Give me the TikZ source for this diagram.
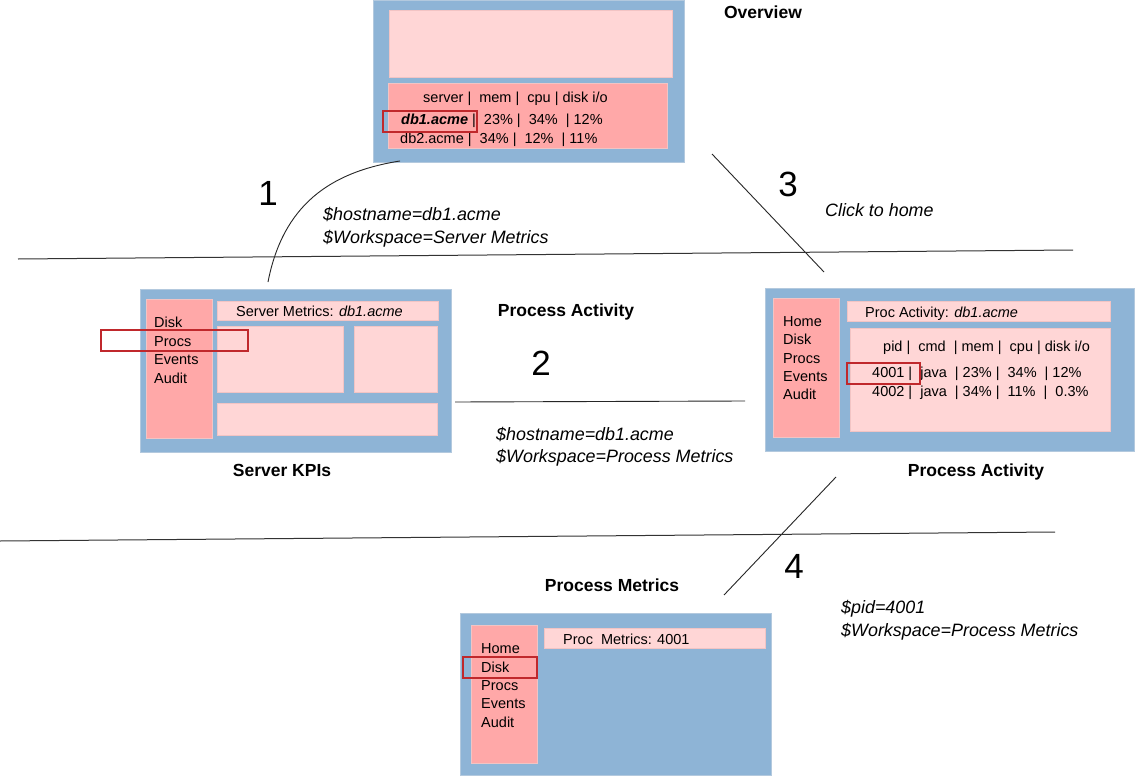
\documentclass[tikz,border=0pt]{standalone}
\usepackage{fontspec}
\setmainfont{Liberation Sans}
\definecolor{panelblue}{HTML}{8EB4D6}
\definecolor{paneledge}{HTML}{B3C9DE}
\definecolor{pinklight}{HTML}{FFD6D6}
\definecolor{pinkdark}{HTML}{FFA8A8}
\definecolor{pinkedge}{HTML}{F2C4C4}
\definecolor{hired}{HTML}{C0282C}
\begin{document}
\begin{tikzpicture}[x=1pt,y=-1pt,
  panel/.style={draw=paneledge,fill=panelblue,line width=0.8pt,anchor=north west,inner sep=0pt,outer sep=0pt},
  lightbox/.style={draw=pinkedge,fill=pinklight,line width=0.5pt,anchor=north west,inner sep=0pt,outer sep=0pt},
  darkbox/.style={draw=pinkedge,fill=pinkdark,line width=0.5pt,anchor=north west,inner sep=0pt,outer sep=0pt},
  hilite/.style={draw=hired,line width=2pt,anchor=north west,inner sep=0pt,outer sep=0pt},
  ui/.style={font=\fontsize{14.5}{17}\selectfont,anchor=base west,inner sep=0pt},
  title/.style={font=\fontsize{17.5}{21}\selectfont\bfseries,anchor=base,inner sep=0pt},
  note/.style={font=\fontsize{17.9}{21}\selectfont\itshape,anchor=base west,inner sep=0pt},
  stepno/.style={font=\fontsize{35}{40}\selectfont,anchor=base,inner sep=0pt},
  link/.style={draw=black!85,line width=0.9pt},
  divider/.style={draw=black!80,line width=1pt}]
\useasboundingbox[fill=white] (0,0) rectangle (1135,776);

% ---------- Overview screen ----------
\node[panel,minimum width=311pt,minimum height=162pt] (ov) at (373,0) {};
\node[lightbox,minimum width=283pt,minimum height=67pt] (ovtop) at (389,10) {};
\node[darkbox,minimum width=279pt,minimum height=65pt] (ovtab) at (388,83) {};
\node[ui] (ovh) at (423,102) {server |~~mem |~~cpu |~disk i/o};
\node[ui] (ovr1) at (401,124) {\textbf{\textit{db1.acme}} |~~23\% |~~34\%~~| 12\%};
\node[ui] (ovr2) at (400,143) {db2.acme |~~34\% |~~12\%~~| 11\%};
\node[hilite,minimum width=94pt,minimum height=21pt] (ovhl) at (383,111) {};
\node[title] (ovtitle) at (763,19) {Overview};

% ---------- Server KPIs screen ----------
\node[panel,minimum width=311pt,minimum height=163pt] (srv) at (140,289) {};
\node[darkbox,minimum width=66pt,minimum height=139pt] (srvmenu) at (146,299) {};
\node[lightbox,minimum width=221pt,minimum height=19pt] (srvbar) at (217,301) {};
\node[lightbox,minimum width=126pt,minimum height=66pt] (srva) at (217,326) {};
\node[lightbox,minimum width=83pt,minimum height=66pt] (srvb) at (354,326) {};
\node[lightbox,minimum width=220pt,minimum height=32pt] (srvc) at (217,403) {};
\node[ui] (srvbartxt) at (236,316) {Server Metrics: \textit{db1.acme}};
\foreach \t/\yy [count=\i] in {Disk/327,Procs/346,Events/364,Audit/383}
  \node[ui] (srvm\i) at (154,\yy) {\t};
\node[hilite,minimum width=147pt,minimum height=21pt] (srvhl) at (101,330) {};
\node[title] (srvtitle) at (282,476) {Server KPIs};

% ---------- Process Activity screen ----------
\node[panel,minimum width=369pt,minimum height=163pt] (pa) at (765,288) {};
\node[darkbox,minimum width=66pt,minimum height=139pt] (pamenu) at (773,298) {};
\node[lightbox,minimum width=263pt,minimum height=20pt] (pabar) at (847,301) {};
\node[lightbox,minimum width=260pt,minimum height=103pt] (patab) at (850,328) {};
\node[ui] (pabartxt) at (865,317) {Proc Activity: \textit{db1.acme}};
\foreach \t/\yy [count=\i] in {Home/326,Disk/344,Procs/363,Events/381,Audit/399}
  \node[ui] (pam\i) at (783,\yy) {\t};
\node[ui] (pah) at (883,351) {pid |~~cmd~~| mem |~~cpu | disk i/o};
\node[ui] (par1) at (872,377) {4001 |~~java~~| 23\% |~~34\%~~| 12\%};
\node[ui] (par2) at (872,396) {4002 |~~java~~| 34\% |~~11\%~~|~~0.3\%};
\node[hilite,minimum width=73pt,minimum height=21pt] (pahl) at (847,363) {};
\node[title] (patitle) at (976,476) {Process Activity};

% ---------- Process Metrics screen ----------
\node[panel,minimum width=311pt,minimum height=162pt] (pm) at (460,613) {};
\node[darkbox,minimum width=66pt,minimum height=138pt] (pmmenu) at (471,625) {};
\node[lightbox,minimum width=221pt,minimum height=20pt] (pmbar) at (544,628) {};
\node[ui] (pmbartxt) at (563,644) {Proc~~Metrics: 4001};
\foreach \t/\yy [count=\i] in {Home/653,Disk/672,Procs/690,Events/708,Audit/727}
  \node[ui] (pmm\i) at (481,\yy) {\t};
\node[hilite,minimum width=74pt,minimum height=21pt] (pmhl) at (463,657) {};
\node[title] (pmtitle) at (612,591) {Process Metrics};

% ---------- transitions ----------
\coordinate (t1a) at (268,282);
\coordinate (t1b) at (400,161);
\draw[link] (t1a) .. controls (283,205) and (330,172) .. (t1b);
\node[stepno] (n1) at (268,205) {1};
\node[note] (v1a) at (323,220) {\$hostname=db1.acme};
\node[note] (v1b) at (323,243) {\$Workspace=Server Metrics};

\coordinate (t2a) at (455,402);
\coordinate (t2b) at (745,401);
\draw[link] (t2a) -- (t2b);
\node[title] (t2title) at (566,316) {Process Activity};
\node[stepno] (n2) at (541,375) {2};
\node[note] (v2a) at (496,440) {\$hostname=db1.acme};
\node[note] (v2b) at (496,462) {\$Workspace=Process Metrics};

\coordinate (t3a) at (712,154);
\coordinate (t3b) at (824,272);
\draw[link] (t3a) -- (t3b);
\node[stepno] (n3) at (788,196) {3};
\node[note] (v3) at (825,216) {Click to home};

\coordinate (t4a) at (836,477);
\coordinate (t4b) at (724,595);
\draw[link] (t4a) -- (t4b);
\node[stepno] (n4) at (794,578) {4};
\node[note] (v4a) at (841,613) {\$pid=4001};
\node[note] (v4b) at (841,636) {\$Workspace=Process Metrics};

% ---------- row separators ----------
\coordinate (d1a) at (18,259);
\coordinate (d1b) at (1073,250);
\coordinate (d2a) at (0,541);
\coordinate (d2b) at (1055,532);
\draw[divider] (d1a) -- (d1b);
\draw[divider] (d2a) -- (d2b);
\end{tikzpicture}
\end{document}
